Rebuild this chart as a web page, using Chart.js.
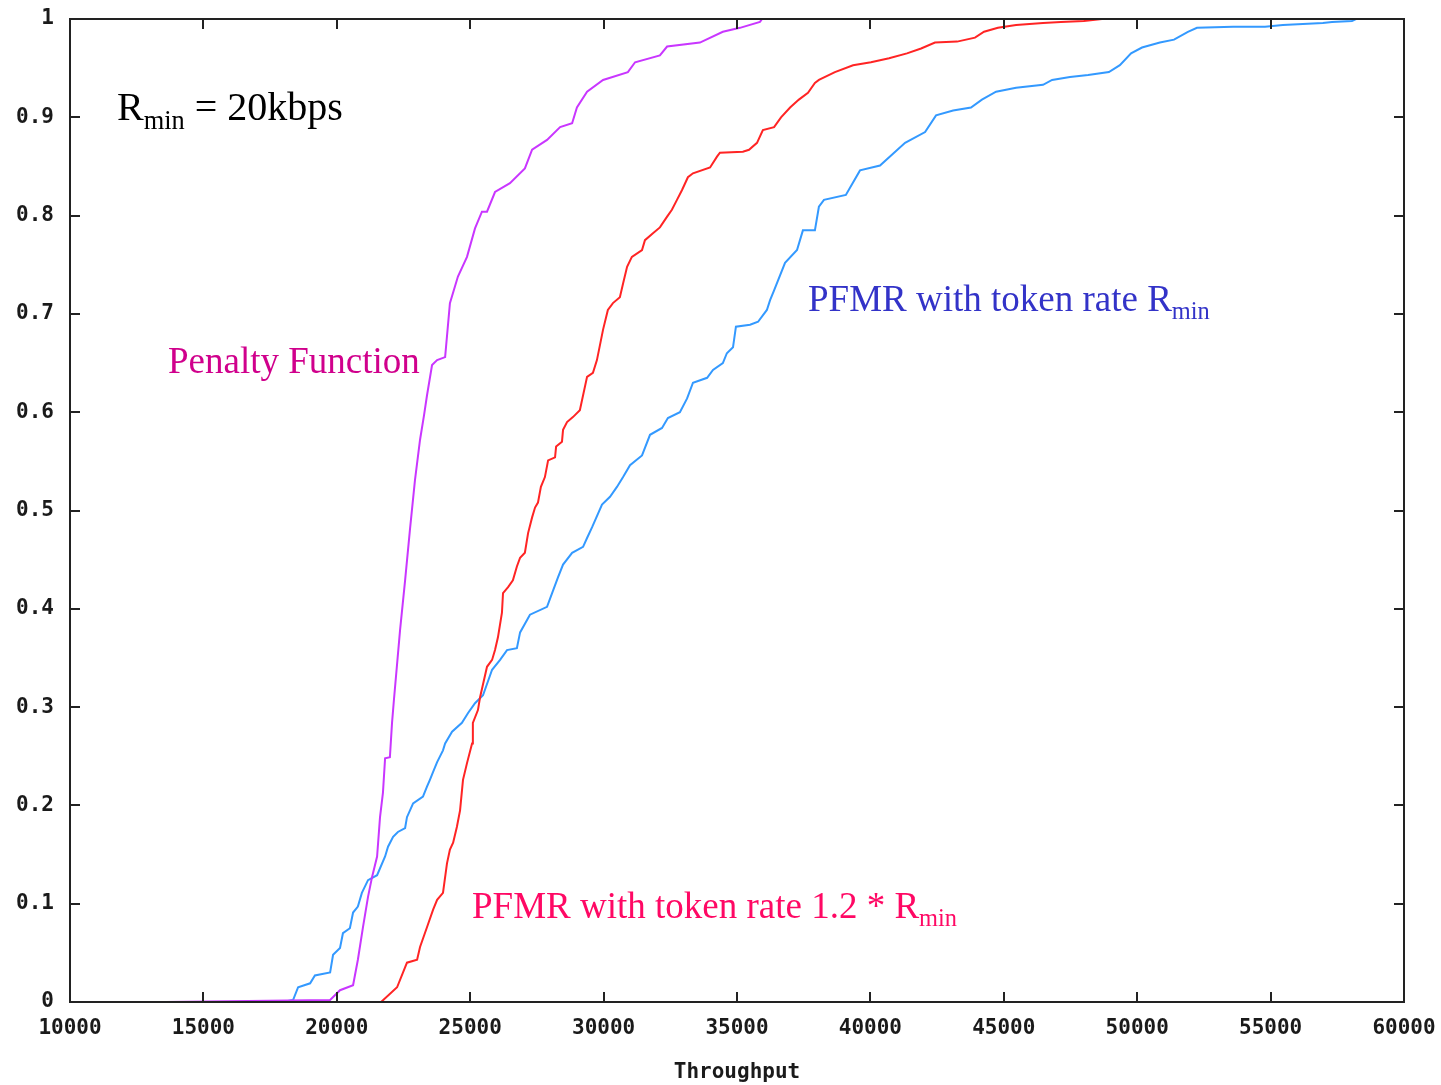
<!DOCTYPE html>
<html>
<head>
<meta charset="utf-8">
<script src="https://cdn.jsdelivr.net/npm/chart.js@4/dist/chart.umd.min.js"></script>
<style>
  html, body { margin: 0; padding: 0; background: #fff; }
  #wrap { width: 1441px; height: 1085px; }
</style>
</head>
<body>
<div id="wrap"><canvas id="cdfChart" width="1441" height="1085"></canvas></div>
<script>
// x ticks and y ticks
const xTicks = [10000, 15000, 20000, 25000, 30000, 35000, 40000, 45000, 50000, 55000, 60000];
const yTicks = [0, 0.1, 0.2, 0.3, 0.4, 0.5, 0.6, 0.7, 0.8, 0.9, 1];

// Penalty Function
const penaltyX = [13600, 19750, 20120, 20610, 20790, 20980, 21170, 21320, 21510, 21620, 21730, 21810, 21990, 22070, 22140, 22370, 22560, 22740, 22930, 23120, 23270, 23380, 23570, 23760, 24060, 24240, 24540, 24880, 25180, 25440, 25630, 25930, 26490, 27050, 27320, 27880, 28370, 28820, 29000, 29380, 29980, 30910, 31180, 32110, 32380, 33610, 34470, 35110, 35860, 35940];
const penaltyY = [0, 0.002, 0.012, 0.017, 0.043, 0.076, 0.107, 0.127, 0.148, 0.188, 0.213, 0.248, 0.249, 0.284, 0.307, 0.378, 0.429, 0.480, 0.531, 0.572, 0.597, 0.617, 0.648, 0.653, 0.656, 0.711, 0.738, 0.758, 0.787, 0.804, 0.804, 0.824, 0.833, 0.848, 0.867, 0.877, 0.890, 0.894, 0.910, 0.926, 0.938, 0.946, 0.956, 0.963, 0.972, 0.976, 0.987, 0.991, 0.997, 1.0];

// PFMR with token rate 1.2 * Rmin
const pfmr12X = [21660, 22260, 22630, 23010, 23120, 23380, 23610, 23760, 23980, 24130, 24240, 24360, 24500, 24620, 24730, 24880, 25070, 25100, 25290, 25370, 25630, 25820, 25930, 26040, 26190, 26230, 26420, 26600, 26750, 26870, 27050, 27170, 27320, 27430, 27540, 27650, 27800, 27920, 28180, 28220, 28440, 28480, 28630, 28850, 29110, 29380, 29600, 29750, 29980, 30160, 30350, 30610, 30730, 30880, 31060, 31440, 31550, 31850, 32110, 32380, 32560, 32750, 32940, 33160, 33350, 33990, 34250, 34360, 35220, 35450, 35750, 35970, 36390, 36650, 36990, 37320, 37660, 37920, 38070, 38670, 39350, 40020, 40700, 41370, 41900, 42420, 43250, 43920, 44260, 44780, 45460, 46470, 47140, 48000, 48680];
const pfmr12Y = [0, 0.015, 0.040, 0.043, 0.056, 0.076, 0.094, 0.104, 0.111, 0.141, 0.155, 0.162, 0.178, 0.195, 0.226, 0.243, 0.263, 0.284, 0.297, 0.310, 0.341, 0.348, 0.358, 0.371, 0.396, 0.416, 0.422, 0.429, 0.443, 0.452, 0.457, 0.477, 0.493, 0.503, 0.508, 0.524, 0.534, 0.551, 0.554, 0.565, 0.570, 0.582, 0.590, 0.595, 0.602, 0.636, 0.640, 0.653, 0.684, 0.704, 0.711, 0.717, 0.731, 0.748, 0.758, 0.765, 0.775, 0.782, 0.788, 0.799, 0.806, 0.816, 0.826, 0.839, 0.843, 0.849, 0.860, 0.864, 0.865, 0.867, 0.874, 0.887, 0.890, 0.900, 0.910, 0.918, 0.925, 0.935, 0.938, 0.946, 0.953, 0.956, 0.960, 0.965, 0.970, 0.976, 0.977, 0.981, 0.987, 0.991, 0.994, 0.996, 0.997, 0.998, 1.0];

// PFMR with token rate Rmin
const pfmrX = [17980, 18360, 18550, 19000, 19180, 19750, 19860, 20120, 20230, 20490, 20610, 20790, 20940, 21170, 21510, 21810, 21920, 22110, 22290, 22560, 22630, 22860, 23230, 23380, 23490, 23610, 23760, 23980, 24060, 24320, 24690, 24920, 25180, 25480, 25820, 26120, 26380, 26750, 26870, 27240, 27880, 28070, 28290, 28480, 28820, 29230, 29380, 29570, 29940, 30240, 30500, 30730, 30990, 31440, 31740, 32190, 32410, 32860, 33130, 33350, 33880, 34100, 34470, 34620, 34850, 34960, 35490, 35790, 36120, 36240, 36390, 36800, 37250, 37470, 37920, 38070, 38260, 39080, 39610, 40360, 41300, 42050, 42460, 43100, 43770, 44180, 44710, 45460, 46470, 46810, 47480, 48160, 48940, 49350, 49770, 50180, 50850, 51380, 51900, 52240, 53590, 54790, 55460, 56960, 57300, 58050, 58200];
const pfmrY = [0, 0.002, 0.015, 0.019, 0.027, 0.030, 0.048, 0.055, 0.070, 0.075, 0.091, 0.097, 0.111, 0.124, 0.129, 0.148, 0.158, 0.168, 0.173, 0.177, 0.188, 0.202, 0.209, 0.219, 0.226, 0.234, 0.244, 0.256, 0.263, 0.275, 0.284, 0.294, 0.304, 0.312, 0.338, 0.348, 0.358, 0.360, 0.376, 0.394, 0.402, 0.416, 0.432, 0.445, 0.457, 0.463, 0.472, 0.483, 0.506, 0.514, 0.524, 0.534, 0.546, 0.556, 0.577, 0.584, 0.594, 0.600, 0.614, 0.630, 0.635, 0.643, 0.650, 0.660, 0.666, 0.687, 0.689, 0.692, 0.704, 0.714, 0.724, 0.752, 0.765, 0.785, 0.785, 0.809, 0.816, 0.821, 0.846, 0.851, 0.874, 0.885, 0.902, 0.907, 0.910, 0.918, 0.926, 0.930, 0.933, 0.938, 0.941, 0.943, 0.946, 0.953, 0.965, 0.971, 0.976, 0.979, 0.987, 0.991, 0.992, 0.992, 0.994, 0.996, 0.997, 0.998, 1.0];

function pts(xs, ys) {
   return xs.map(function(x, i) { return { x: x, y: ys[i] }; });
}

const monoFont = '"DejaVu Sans Mono", monospace';
const serifFont = '"Liberation Serif", "Times New Roman", serif';

// draw text with a subscript part
function subText(ctx, parts, x, y, size, color) {
   ctx.save();
   ctx.fillStyle = color;
   ctx.textBaseline = 'alphabetic';
   ctx.textAlign = 'left';
   let cx = x;
   parts.forEach(function(p) {
      const s = p.sub ? size * 0.66 : size;
      ctx.font = s + 'px ' + serifFont;
      ctx.fillText(p.t, cx, p.sub ? y + size * 0.22 : y);
      cx += ctx.measureText(p.t).width;
   });
   ctx.restore();
}

// inward ticks on all four sides plus the full frame, like gnuplot
const framePlugin = {
   id: 'frame',
   afterDatasetsDraw: function(chart) {
      const ctx = chart.ctx;
      const a = chart.chartArea;
      const xs = chart.scales.x, ys = chart.scales.y;
      ctx.save();
      ctx.strokeStyle = '#222';
      ctx.lineWidth = 2;
      ctx.beginPath();
      xTicks.forEach(function(v) {
         const px = Math.round(xs.getPixelForValue(v));
         if (v === xTicks[0] || v === xTicks[xTicks.length - 1]) return;
         ctx.moveTo(px, a.bottom); ctx.lineTo(px, a.bottom - 10);
         ctx.moveTo(px, a.top); ctx.lineTo(px, a.top + 10);
      });
      yTicks.forEach(function(v) {
         const py = Math.round(ys.getPixelForValue(v));
         if (v === 0 || v === 1) return;
         ctx.moveTo(a.left, py); ctx.lineTo(a.left + 10, py);
         ctx.moveTo(a.right, py); ctx.lineTo(a.right - 10, py);
      });
      ctx.stroke();
      ctx.strokeRect(a.left, a.top, a.right - a.left, a.bottom - a.top);
      ctx.restore();

      subText(ctx, [{ t: 'R' }, { t: 'min', sub: true }, { t: ' = 20kbps' }], 117, 120, 40, '#000');
      subText(ctx, [{ t: 'Penalty Function' }], 168, 373, 37, '#d0008c');
      subText(ctx, [{ t: 'PFMR with token rate R' }, { t: 'min', sub: true }], 808, 311, 37, '#3333c8');
      subText(ctx, [{ t: 'PFMR with token rate 1.2 * R' }, { t: 'min', sub: true }], 472, 918, 37, '#ff0864');
   }
};

const ctx = document.getElementById('cdfChart').getContext('2d');
const cdfChart = new Chart(ctx, {
   type: 'scatter',
   data: {
      datasets: [
         {
            label: 'Penalty Function',
            data: pts(penaltyX, penaltyY),
            borderColor: '#c936ff',
            borderWidth: 2,
            showLine: true,
            pointRadius: 0,
            fill: false
         },
         {
            label: 'PFMR with token rate 1.2 * Rmin',
            data: pts(pfmr12X, pfmr12Y),
            borderColor: '#ff2424',
            borderWidth: 2,
            showLine: true,
            pointRadius: 0,
            fill: false
         },
         {
            label: 'PFMR with token rate Rmin',
            data: pts(pfmrX, pfmrY),
            borderColor: '#3399ff',
            borderWidth: 2,
            showLine: true,
            pointRadius: 0,
            fill: false
         }
      ]
   },
   options: {
      responsive: false,
      animation: false,
      devicePixelRatio: 1,
      layout: { padding: { top: 19, right: 37, left: 0, bottom: 0 } },
      plugins: {
         legend: { display: false },
         tooltip: { enabled: false }
      },
      scales: {
         x: {
            type: 'linear',
            min: 10000,
            max: 60000,
            afterBuildTicks: function(scale) { scale.ticks = xTicks.map(function(v) { return { value: v }; }); },
            afterFit: function(scale) { scale.height = 83; scale.paddingRight = 0; scale.paddingLeft = 0; },
            grid: { display: false, drawTicks: false },
            border: { display: false },
            ticks: {
               padding: 14,
               color: '#1a1a1a',
               font: { family: monoFont, size: 21, weight: 'bold' },
               maxRotation: 0,
               autoSkip: false,
               callback: function(v) { return String(v); }
            },
            title: {
               display: true,
               text: 'Throughput',
               color: '#1a1a1a',
               font: { family: monoFont, size: 21, weight: 'bold' },
               padding: { top: 12, bottom: 0 }
            }
         },
         y: {
            type: 'linear',
            min: 0,
            max: 1,
            afterBuildTicks: function(scale) { scale.ticks = yTicks.map(function(v) { return { value: v }; }); },
            afterFit: function(scale) { scale.width = 70; scale.paddingTop = 0; scale.paddingBottom = 0; },
            grid: { display: false, drawTicks: false },
            border: { display: false },
            ticks: {
               padding: 16,
               color: '#1a1a1a',
               font: { family: monoFont, size: 21, weight: 'bold' },
               autoSkip: false,
               callback: function(v) { return (v === 0 || v === 1) ? String(v) : v.toFixed(1); }
            }
         }
      }
   },
   plugins: [framePlugin]
});
</script>
</body>
</html>
